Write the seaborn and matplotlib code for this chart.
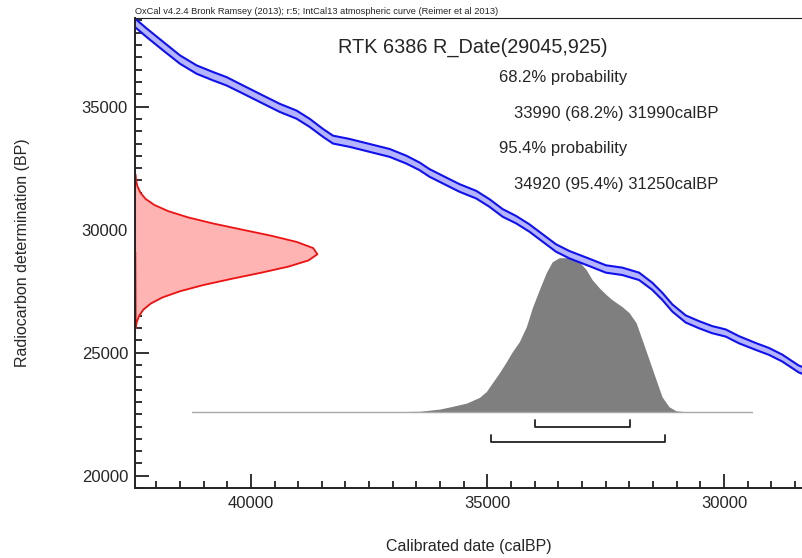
import seaborn as sns
import matplotlib.pyplot as plt
import pandas as pd
from matplotlib.ticker import MultipleLocator

# IntCal13 curve segment (calBP, BP, 1 sigma)
curve_cal = [42447, 42200, 41850, 41498, 41146, 40795, 40513, 40162, 39741, 39388,
             39035, 38755, 38475, 38264, 37911, 37489, 37067, 36715, 36435, 36224,
             35943, 35591, 35238, 34958, 34677, 34395, 34114, 33833, 33551, 33270,
             32848, 32496, 32146, 31793, 31513, 31302, 31091, 30808, 30528, 30247,
             29964, 29684, 29331, 29050, 28770, 28418, 28300]
curve_bp = [38402, 37996, 37451, 36911, 36504, 36232, 36028, 35691, 35285, 34947,
            34675, 34337, 33931, 33659, 33524, 33321, 33118, 32846, 32573, 32305,
            32033, 31695, 31423, 31085, 30679, 30407, 30069, 29663, 29256, 28984,
            28671, 28402, 28305, 28102, 27695, 27289, 26817, 26370, 26138, 25935,
            25801, 25528, 25256, 25053, 24785, 24337, 24250]
curve_err = [175, 175, 175, 170, 170, 170, 170, 165, 165, 165,
             165, 165, 160, 160, 160, 160, 160, 160, 155, 155,
             155, 155, 155, 155, 155, 150, 150, 150, 150, 150,
             150, 150, 150, 150, 145, 145, 145, 145, 145, 145,
             145, 145, 140, 140, 140, 140, 140]

# radiocarbon measurement R_Date(29045,925), relative probability
meas_bp = [25800, 26000, 26250, 26500, 26750, 27000, 27250, 27500, 27750, 28000,
           28250, 28500, 28750, 29000, 29250, 29500, 29750, 30000, 30250, 30500,
           30750, 31000, 31250, 31500, 31750, 32000, 32250, 32350]
meas_p = [0.002, 0.004, 0.010, 0.023, 0.046, 0.087, 0.152, 0.248, 0.375, 0.528,
          0.691, 0.841, 0.950, 0.999, 0.976, 0.886, 0.748, 0.587, 0.428, 0.290,
          0.183, 0.107, 0.058, 0.030, 0.014, 0.006, 0.003, 0.002]

# calibrated distribution, relative probability
cal_x = [41250, 37280, 36860, 36435, 36013, 35738, 35443, 35169, 35021, 34895,
         34747, 34599, 34473, 34325, 34177, 34051, 33903, 33756, 33629, 33481,
         33270, 33207, 33059, 32911, 32785, 32637, 32489, 32363, 32152, 32004,
         31857, 31730, 31582, 31435, 31308, 31160, 31012, 30801, 30500, 29410]
cal_p = [0.0, 0.0, 0.001, 0.003, 0.017, 0.035, 0.056, 0.093, 0.132, 0.188,
         0.253, 0.325, 0.390, 0.455, 0.552, 0.675, 0.792, 0.903, 0.974, 1.0,
         1.0, 0.995, 0.974, 0.922, 0.857, 0.805, 0.760, 0.727, 0.682, 0.643,
         0.578, 0.468, 0.338, 0.208, 0.097, 0.032, 0.006, 0.0, 0.0, 0.0]

# highest posterior density ranges
range_68 = [33990, 31990]
range_95 = [34920, 31250]

title = "OxCal v4.2.4 Bronk Ramsey (2013); r:5; IntCal13 atmospheric curve (Reimer et al 2013)"
name = "RTK 6386 R_Date(29045,925)"
summary = ["68.2% probability", "33990 (68.2%) 31990calBP",
           "95.4% probability", "34920 (95.4%) 31250calBP"]

sns.set_style("ticks")
plt.rcParams["font.family"] = ["Liberation Sans", "DejaVu Sans"]

xmin, xmax = 42450, 28350
ymin, ymax = 19500, 38600

fig = plt.figure(figsize=(8.02, 5.58), dpi=100)
ax = fig.add_axes([0.1683, 0.1254, 0.8317, 0.8423])

# calibration curve band
df_curve = pd.DataFrame({"cal": curve_cal, "bp": curve_bp, "err": curve_err})
df_curve["lo"] = df_curve.bp - df_curve.err
df_curve["hi"] = df_curve.bp + df_curve.err
ax.fill_between(df_curve.cal, df_curve.lo, df_curve.hi, color="#b4b4ff", lw=0)
for col in ["lo", "hi"]:
    sns.lineplot(data=df_curve, x="cal", y=col, color="#1010ee", lw=1.5, ax=ax,
                 solid_joinstyle="round")

# measurement on the y axis
df_meas = pd.DataFrame({"bp": meas_bp, "p": meas_p})
df_meas["x"] = xmin - df_meas.p * 3860
ax.fill_betweenx(df_meas.bp, xmin, df_meas.x, color="#ffb4b4", lw=0)
sns.lineplot(data=df_meas, x="x", y="bp", sort=False, color="#ee1111", lw=1.3, ax=ax,
             solid_joinstyle="round")

# calibrated distribution
base = 22600
df_cal = pd.DataFrame({"cal": cal_x, "p": cal_p})
df_cal["top"] = base + df_cal.p * 6260
ax.fill_between(df_cal.cal, base, df_cal.top, color="#7f7f7f", lw=0)
ax.plot([cal_x[0], cal_x[-1]], [base, base], color="#a8a8a8", lw=1)

# range brackets
for rng, yb in [(range_68, 21990), (range_95, 21380)]:
    ax.plot([rng[0], rng[0], rng[1], rng[1]], [yb + 260, yb, yb, yb + 260],
            color="#222222", lw=1.3)

ax.set_xlim(xmin, xmax)
ax.set_ylim(ymin, ymax)
ax.set_xticks([40000, 35000, 30000])
ax.set_yticks([20000, 25000, 30000, 35000])
ax.xaxis.set_minor_locator(MultipleLocator(500))
ax.yaxis.set_minor_locator(MultipleLocator(500))
ax.tick_params(which="both", direction="in", color="#222222", width=1.3,
               labelsize=12, top=False, right=False)
ax.tick_params(which="major", length=10)
ax.tick_params(which="minor", length=5)
ax.tick_params(axis="x", pad=6)
ax.tick_params(axis="y", pad=5)
for s in ["left", "bottom", "top"]:
    ax.spines[s].set_linewidth(1.4)
    ax.spines[s].set_color("#222222")
ax.spines["top"].set_visible(True)
ax.spines["top"].set_linewidth(0.8)
ax.spines["right"].set_visible(False)

ax.set_xlabel("Calibrated date (calBP)", fontsize=11.5, labelpad=20)
ax.set_ylabel("Radiocarbon determination (BP)", fontsize=11.5, labelpad=37)

fig.text(0.1683, 0.9785, title, fontsize=6.7, va="center", ha="left")
fig.text(0.4215, 0.915, name, fontsize=14.3, ha="left", va="center")
for i, line in enumerate(summary):
    xpos = 0.622 if i % 2 == 0 else 0.641
    fig.text(xpos, 0.861 - i * 0.0636, line, fontsize=12, ha="left", va="center")

fig.savefig("out.png", dpi=100)
